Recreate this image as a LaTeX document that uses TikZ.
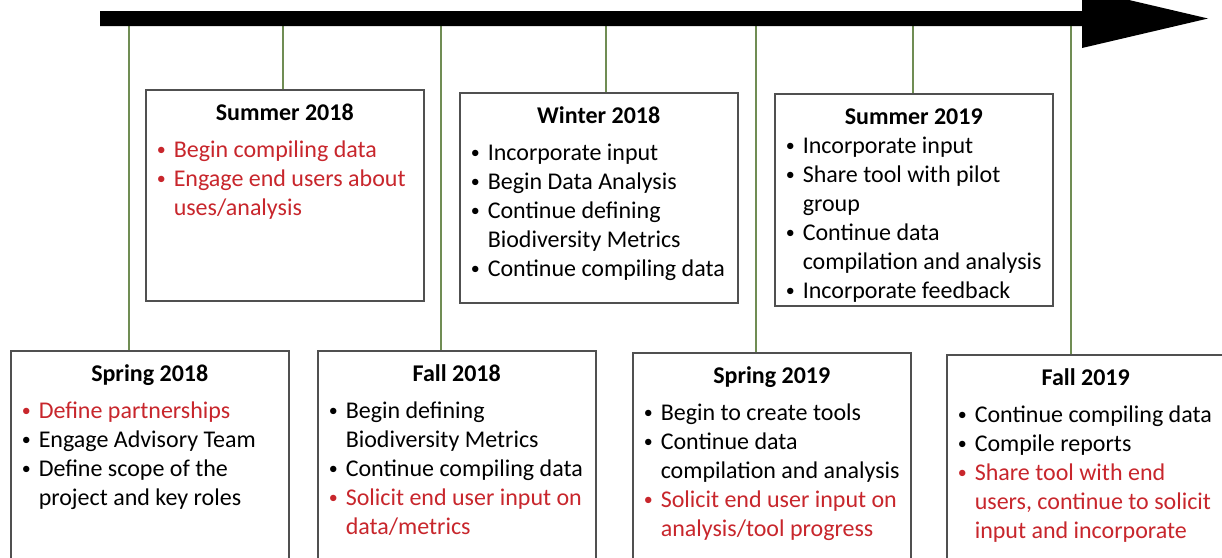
\documentclass[tikz,border=0pt]{standalone}
\usepackage{fontspec}
\setmainfont{Carlito}

\definecolor{linkgreen}{RGB}{112,141,84}
\definecolor{framegray}{RGB}{80,80,80}
\definecolor{hotred}{RGB}{200,38,44}

% box heading: bold, centred, with a fixed strut so the first baseline sits 31pt below the frame top
\newcommand\phasetitle[1]{\makebox[\linewidth][c]{\rule{0pt}{31pt}\bfseries #1}\par}
% small bullet mark
\newcommand\dotmark{\raisebox{2pt}{\fontsize{18pt}{18pt}\selectfont\textbullet}}
% bullet entry with hanging indent; optional colour
\newcommand\bitem[2][black]{{\color{#1}\hangindent=18pt\hangafter=1\noindent\makebox[18pt][l]{\hspace{1pt}\dotmark}#2\par}}
% box body: fixed-height top-aligned block
\newcommand\phasebody[2]{\parbox[t][#1][t]{258pt}{\fontsize{24pt}{29pt}\selectfont\raggedright #2}}

\tikzset{
  phase/.style={draw=framegray, line width=1.5pt, fill=white, anchor=north west,
                inner xsep=10pt, inner ysep=0pt},
  link/.style={draw=linkgreen, line width=2pt},
}

\begin{document}
\begin{tikzpicture}[x=1pt,y=-1pt]
\clip (0,0) rectangle (1222,557);

% upper row
\node[phase] (su18) at (145,89) {\phasebody{211pt}{%
  \phasetitle{Summer 2018}\vspace{8pt}
  \bitem[hotred]{Begin compiling data}
  \bitem[hotred]{Engage end users about\newline uses/analysis}}};
\node[phase] (wi18) at (459,92) {\phasebody{210pt}{%
  \phasetitle{Winter 2018}\vspace{8pt}
  \bitem{Incorporate input}
  \bitem{Begin Data Analysis}
  \bitem{Continue defining\newline Biodiversity Metrics}
  \bitem{Continue compiling data}}};
\node[phase] (su19) at (774,93) {\phasebody{212pt}{%
  \phasetitle{Summer 2019}
  \bitem{Incorporate input}
  \bitem{Share tool with pilot\newline group}
  \bitem{Continue data\newline compilation and analysis}
  \bitem{Incorporate feedback}}};

% lower row
\node[phase] (sp18) at (10,350) {\phasebody{230pt}{%
  \phasetitle{Spring 2018}\vspace{8pt}
  \bitem[hotred]{Define partnerships}
  \bitem{Engage Advisory Team}
  \bitem{Define scope of the\newline project and key roles}}};
\node[phase] (fa18) at (317,350) {\phasebody{230pt}{%
  \phasetitle{Fall 2018}\vspace{8pt}
  \bitem{Begin defining\newline Biodiversity Metrics}
  \bitem{Continue compiling data}
  \bitem[hotred]{Solicit end user input on\newline data/metrics}}};
\node[phase] (sp19) at (632,352) {\phasebody{230pt}{%
  \phasetitle{Spring 2019}\vspace{8pt}
  \bitem{Begin to create tools}
  \bitem{Continue data\newline compilation and analysis}
  \bitem[hotred]{Solicit end user input on\newline analysis/tool progress}}};
\node[phase] (fa19) at (946,354) {\phasebody{230pt}{%
  \phasetitle{Fall 2019}\vspace{8pt}
  \bitem{Continue compiling data}
  \bitem{Compile reports}
  \bitem[hotred]{Share tool with end\newline users, continue to solicit\newline input and incorporate}}};

% drop lines from the time axis to each phase
\coordinate (k1) at (129,20);
\coordinate (k2) at (283,20);
\coordinate (k3) at (441,20);
\coordinate (k4) at (606,20);
\coordinate (k5) at (756,20);
\coordinate (k6) at (913,20);
\coordinate (k7) at (1071,20);
\draw[link] (k1) -- (k1 |- sp18.north);
\draw[link] (k2) -- (k2 |- su18.north);
\draw[link] (k3) -- (k3 |- fa18.north);
\draw[link] (k4) -- (k4 |- wi18.north);
\draw[link] (k5) -- (k5 |- sp19.north);
\draw[link] (k6) -- (k6 |- su19.north);
\draw[link] (k7) -- (k7 |- fa19.north);

% time axis
\fill[black] (100,11) -- (1082,11) -- (1082,-11) -- (1208,18.5) -- (1082,48)
  -- (1082,26) -- (100,26) -- cycle;
\end{tikzpicture}
\end{document}
